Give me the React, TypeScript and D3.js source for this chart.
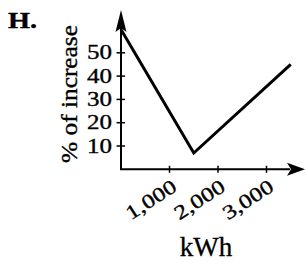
import { useEffect, useRef } from "react"
import * as d3 from "d3"

// readings of the graph
const kwh = [0, 1500, 3500]
const pctIncrease = [60, 7, 45]
const xTicks = [1000, 2000, 3000]
const yTicks = [10, 20, 30, 40, 50]

const fmt = d3.format(",")

export default function App() {
    const ref = useRef<SVGSVGElement | null>(null)

    useEffect(() => {
        const svg = d3.select(ref.current)
        svg.selectAll("*").remove()

        const width = 306
        const height = 262

        const x = d3.scaleLinear().domain([0, 3500]).range([121, 290.75])
        const y = d3.scaleLinear().domain([0, 60]).range([169.3, 29.5])

        const x0 = x(0)
        const y0 = y(0)
        const font = "'Liberation Serif', 'Times New Roman', serif"

        svg.attr("width", width).attr("height", height)

        // scanned print looks a bit heavy, so texts get a thin outline
        const ink = (sel: any, w = 0.35) =>
            sel.attr("fill", "#000").attr("stroke", "#000").attr("stroke-width", w)

        // problem letter
        svg.append("text")
            .attr("x", 8)
            .attr("y", 28)
            .attr("font-family", font)
            .attr("font-weight", 700)
            .attr("font-size", 23)
            .attr("textLength", 29)
            .attr("lengthAdjust", "spacingAndGlyphs")
            .call(ink, 0.4)
            .text("H.")

        // axes
        svg.append("line")
            .attr("x1", x0).attr("y1", y0)
            .attr("x2", x0).attr("y2", 26)
            .attr("stroke", "#000").attr("stroke-width", 2)

        svg.append("line")
            .attr("x1", x0 - 1).attr("y1", y0)
            .attr("x2", 290).attr("y2", y0)
            .attr("stroke", "#000").attr("stroke-width", 2)

        // arrow heads
        svg.append("path")
            .attr("d", `M${x0},10 L${x0 + 5.5},32 L${x0},28 L${x0 - 5.5},32 Z`)
            .attr("fill", "#000")

        svg.append("path")
            .attr("d", `M305,${y0} L287,${y0 - 6.5} L291,${y0} L287,${y0 + 6.5} Z`)
            .attr("fill", "#000")

        // y ticks
        const yt = svg.append("g")
        yt.selectAll("line")
            .data(yTicks)
            .join("line")
            .attr("x1", x0 - 4.5).attr("x2", x0 + 4)
            .attr("y1", d => y(d)).attr("y2", d => y(d))
            .attr("stroke", "#000").attr("stroke-width", 1.5)

        yt.selectAll("text")
            .data(yTicks)
            .join("text")
            .attr("transform", d => `translate(112,${y(d)}) scale(1.25,1)`)
            .attr("text-anchor", "end")
            .attr("dominant-baseline", "central")
            .attr("font-family", font)
            .attr("font-size", 20)
            .call(ink)
            .text(d => d)

        // x ticks
        const xt = svg.append("g")
        xt.selectAll("line")
            .data(xTicks)
            .join("line")
            .attr("x1", d => x(d)).attr("x2", d => x(d))
            .attr("y1", y0 - 3.5).attr("y2", y0 + 3.5)
            .attr("stroke", "#000").attr("stroke-width", 1.5)

        xt.selectAll("text")
            .data(xTicks)
            .join("text")
            .attr("transform", d => `translate(${x(d) + 5},${y0 + 15}) rotate(-33) scale(1.25,1)`)
            .attr("text-anchor", "end")
            .attr("dominant-baseline", "central")
            .attr("font-family", font)
            .attr("font-size", 20)
            .call(ink)
            .text(d => fmt(d))

        // axis titles
        svg.append("text")
            .attr("transform", `translate(77,94) rotate(-90)`)
            .attr("text-anchor", "middle")
            .attr("font-family", font)
            .attr("font-size", 23)
            .attr("textLength", 138)
            .attr("lengthAdjust", "spacingAndGlyphs")
            .call(ink)
            .text("% of increase")

        svg.append("text")
            .attr("x", 206)
            .attr("y", 256)
            .attr("text-anchor", "middle")
            .attr("font-family", font)
            .attr("font-size", 27)
            .call(ink)
            .text("kWh")

        // the graph
        const line = d3.line<number>()
            .x((d) => x(d))
            .y((_, i) => y(pctIncrease[i]))

        svg.append("path")
            .datum(kwh)
            .attr("d", line)
            .attr("fill", "none")
            .attr("stroke", "#000")
            .attr("stroke-width", 3)
            .attr("stroke-linejoin", "miter")
    }, [])

    return (
        <svg
            ref={ref}
            style={{ position: "absolute", left: 0, top: 0, background: "#fff" }}
        />
    )
}
